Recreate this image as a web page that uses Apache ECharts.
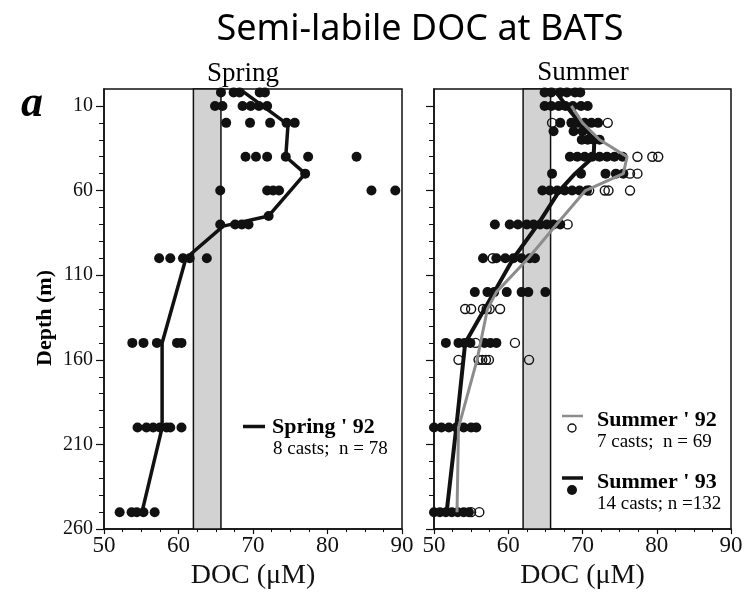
<!DOCTYPE html>
<html>
<head>
<meta charset="utf-8">
<script src="https://cdn.jsdelivr.net/npm/echarts@6/dist/echarts.min.js"></script>
<style>html,body{margin:0;padding:0;background:#fff;}#c{width:753px;height:595px;}</style>
</head>
<body>
<div id="c"></div>
<script>
// ---------- data ----------
const xTicks = [50, 60, 70, 80, 90];
const depthLabelTicks = [10, 60, 110, 160, 210, 260];
const depthMinorTicks = [20, 30, 40, 50, 70, 80, 90, 100, 120, 130, 140, 150, 170, 180, 190, 200, 220, 230, 240, 250];
const bandRange = [62, 65.7];

// Spring '92 (filled dots)
const springDotDepths = [2, 10, 20, 40, 50, 60, 75, 80, 100, 150, 200, 250];
const springDotValues = [
  [65.7, 67.4, 68.2, 70.9, 71.6],
  [64.9, 65.9, 68.6, 69.7, 70.8, 71.9],
  [66.4, 69.6, 72.3, 74.5, 75.6],
  [69.0, 70.4, 71.9, 74.4, 77.4, 83.9],
  [77.0],
  [65.6, 71.9, 72.7, 73.5, 85.9, 89.1],
  [72.1],
  [65.6, 67.6, 68.5, 69.4],
  [57.4, 58.9, 60.6, 61.5, 63.8],
  [53.8, 55.3, 57.1, 59.8, 60.4],
  [54.5, 55.7, 56.6, 57.5, 58.4, 58.9, 60.4],
  [52.1, 53.7, 54.4, 55.3, 56.8]
];
const springMeanDepths = [1, 21, 40, 50, 75, 81, 100, 150, 200, 250];
const springMeanValues = [68.5, 74.7, 74.4, 77.0, 72.1, 66.0, 61.0, 57.8, 57.8, 55.1];

// Summer '93 (filled dots)
const s93DotDepths = [2, 10, 20, 25, 30, 40, 50, 60, 80, 100, 120, 150, 200, 250];
const s93DotValues = [
  [64.9, 65.8, 67.0, 67.9, 69.0, 69.7],
  [64.9, 65.8, 66.8, 67.7, 68.7, 69.8, 70.7],
  [67.0, 68.5, 69.4, 70.3, 71.2, 72.1],
  [66.1, 68.8, 70.0],
  [69.9, 70.7, 71.5, 72.3],
  [68.3, 69.3, 70.3, 71.3, 72.3, 73.3, 74.3, 75.4],
  [65.9, 69.8, 73.1, 74.5, 75.5],
  [64.6, 65.6, 66.6, 67.6, 68.6, 69.6, 70.6],
  [58.2, 60.2, 61.3, 62.5, 63.4, 64.3, 65.2, 66.1, 67.0],
  [56.6, 58.4, 59.6, 60.7, 61.8, 62.9, 63.6],
  [55.5, 57.2, 58.1, 59.8, 61.8, 62.7, 65.0],
  [51.6, 53.3, 54.1, 54.9, 56.8, 57.6, 58.4],
  [50.0, 51.0, 52.0, 53.0, 54.0, 55.0, 55.7],
  [50.0, 50.8, 51.6, 52.4, 53.2, 54.0, 54.7]
];
const s93MeanDepths = [2, 10, 20, 30, 40, 50, 60, 80, 100, 120, 150, 200, 250];
const s93MeanValues = [66.5, 67.8, 69.6, 71.6, 71.5, 69.0, 66.9, 64.0, 60.7, 58.1, 54.2, 53.0, 51.7];

// Summer '92 (open circles)
const s92DotDepths = [20, 40, 50, 60, 80, 100, 130, 150, 160, 250];
const s92DotValues = [
  [65.9, 73.4],
  [77.4, 79.4, 80.2],
  [76.4, 77.4],
  [70.9, 73.0, 73.5, 76.4],
  [68.0],
  [57.9],
  [54.2, 55.0, 56.6, 57.1, 57.5, 58.9],
  [55.6, 60.9],
  [53.3, 56.0, 56.5, 57.0, 57.4, 62.8],
  [55.0, 56.1]
];
const s92MeanDepths = [10, 20, 30, 40, 50, 60, 80, 100, 120, 130, 160, 200, 250];
const s92MeanValues = [68.5, 70.0, 72.3, 76.0, 75.5, 70.4, 66.5, 62.7, 58.4, 57.2, 55.8, 53.3, 53.1];

// ---------- helpers ----------
function dots(depths, vals) {
  const out = [];
  depths.forEach((d, i) => vals[i].forEach(v => out.push([v, d])));
  return out;
}
function pairs(depths, vals) { return depths.map((d, i) => [vals[i], d]); }

const SERIF = 'Liberation Serif';
const BLACK = '#111';

function xAxisFor(i) {
  return {
    gridIndex: i, type: 'value', min: xTicks[0], max: xTicks[xTicks.length - 1], interval: 10,
    position: 'bottom',
    axisLine: { show: true, onZero: false, lineStyle: { color: BLACK, width: 1.5 } },
    axisTick: { show: true, length: 5, lineStyle: { color: BLACK, width: 1.2 } },
    minorTick: { show: true, splitNumber: 4, length: 3, lineStyle: { color: BLACK, width: 1 } },
    splitLine: { show: false }, minorSplitLine: { show: false },
    axisLabel: { color: BLACK, fontFamily: SERIF, fontSize: 23, margin: 5 },
    name: 'DOC (μM)', nameLocation: 'middle', nameGap: 32,
    nameTextStyle: { fontFamily: SERIF, fontSize: 28, color: BLACK }
  };
}
function yMajor(i) {
  return {
    gridIndex: i, type: 'value', inverse: true, min: 0, max: 260, position: 'left', offset: 0,
    axisLine: { show: true, onZero: false, lineStyle: { color: BLACK, width: 1.5 } },
    axisTick: { show: true, customValues: depthLabelTicks, length: 8, lineStyle: { color: BLACK, width: 1.2 } },
    axisLabel: { show: i === 0, customValues: depthLabelTicks, color: BLACK, fontFamily: SERIF, fontSize: 20, margin: 11 },
    splitLine: { show: false }
  };
}
function yMinor(i) {
  return {
    gridIndex: i, type: 'value', inverse: true, min: 0, max: 260, position: 'left', offset: 0,
    axisLine: { show: false, onZero: false },
    axisTick: { show: true, customValues: depthMinorTicks, length: 5, lineStyle: { color: BLACK, width: 1 } },
    axisLabel: { show: false },
    splitLine: { show: false }
  };
}

const band = {
  silent: true,
  itemStyle: { color: '#d2d2d2', borderColor: BLACK, borderWidth: 1.5 },
  data: [[{ xAxis: bandRange[0] }, { xAxis: bandRange[1] }]]
};

const chart = echarts.init(document.getElementById('c'), null, { renderer: 'canvas' });
chart.setOption({
  backgroundColor: '#fff',
  animation: false,
  grid: [
    { left: 104, top: 89, width: 298, height: 447, show: true, borderColor: BLACK, borderWidth: 1.5, backgroundColor: 'transparent' },
    { left: 434, top: 89, width: 297, height: 447, show: true, borderColor: BLACK, borderWidth: 1.5, backgroundColor: 'transparent' }
  ],
  xAxis: [xAxisFor(0), xAxisFor(1)],
  yAxis: [yMajor(0), yMinor(0), yMajor(1), yMinor(1)],
  series: [
    {
      name: 'Spring dots', type: 'scatter', xAxisIndex: 0, yAxisIndex: 0,
      data: dots(springDotDepths, springDotValues), symbolSize: 10,
      itemStyle: { color: BLACK, opacity: 1 }, markArea: band, z: 3
    },
    {
      name: "Spring ' 92", type: 'line', xAxisIndex: 0, yAxisIndex: 0,
      data: pairs(springMeanDepths, springMeanValues), showSymbol: false, symbol: 'none',
      lineStyle: { color: BLACK, width: 3.5 }, z: 4
    },
    {
      name: "Summer ' 93 dots", type: 'scatter', xAxisIndex: 1, yAxisIndex: 2,
      data: dots(s93DotDepths, s93DotValues), symbolSize: 10,
      itemStyle: { color: BLACK, opacity: 1 }, markArea: band, z: 3
    },
    {
      name: "Summer ' 92 dots", type: 'scatter', xAxisIndex: 1, yAxisIndex: 2,
      data: dots(s92DotDepths, s92DotValues), symbolSize: 9,
      itemStyle: { color: 'rgba(255,255,255,0)', borderColor: BLACK, borderWidth: 1.4, opacity: 1 }, z: 3
    },
    {
      name: "Summer ' 93", type: 'line', xAxisIndex: 1, yAxisIndex: 2,
      data: pairs(s93MeanDepths, s93MeanValues), showSymbol: false, symbol: 'none',
      lineStyle: { color: BLACK, width: 4 }, z: 4
    },
    {
      name: "Summer ' 92", type: 'line', xAxisIndex: 1, yAxisIndex: 2,
      data: pairs(s92MeanDepths, s92MeanValues), showSymbol: false, symbol: 'none',
      lineStyle: { color: '#8c8c8c', width: 3 }, z: 5
    }
  ],
  graphic: [
    { type: 'text', x: 420, y: 30, style: { text: 'Semi-labile DOC at BATS', font: '36px "Noto Sans"', fill: '#000', align: 'center', verticalAlign: 'middle' } },
    { type: 'text', x: 243, y: 74, style: { text: 'Spring', font: '27px "Liberation Serif"', fill: '#000', align: 'center', verticalAlign: 'middle' } },
    { type: 'text', x: 583, y: 73, style: { text: 'Summer', font: '27px "Liberation Serif"', fill: '#000', align: 'center', verticalAlign: 'middle' } },
    { type: 'text', x: 32, y: 105, style: { text: 'a', font: 'italic bold 44px "Liberation Serif"', fill: '#000', align: 'center', verticalAlign: 'middle' } },
    { type: 'text', x: 45, y: 318, rotation: Math.PI / 2, style: { text: 'Depth (m)', font: 'bold 22px "Liberation Serif"', fill: '#000', align: 'center', verticalAlign: 'middle' } },
    // Spring legend
    { type: 'line', shape: { x1: 243, y1: 426.5, x2: 265, y2: 426.5 }, style: { stroke: BLACK, lineWidth: 3.5 } },
    { type: 'text', x: 272, y: 427, style: { text: "Spring ' 92", font: 'bold 22px "Liberation Serif"', fill: '#000', align: 'left', verticalAlign: 'middle' } },
    { type: 'text', x: 273, y: 449, style: { text: '8 casts;  n = 78', font: '19px "Liberation Serif"', fill: '#000', align: 'left', verticalAlign: 'middle' } },
    // Summer '92 legend
    { type: 'line', shape: { x1: 562, y1: 416, x2: 583, y2: 416 }, style: { stroke: '#8c8c8c', lineWidth: 2.5 } },
    { type: 'circle', shape: { cx: 572, cy: 428, r: 4 }, style: { fill: 'none', stroke: BLACK, lineWidth: 1.4 } },
    { type: 'text', x: 597, y: 420, style: { text: "Summer ' 92", font: 'bold 22px "Liberation Serif"', fill: '#000', align: 'left', verticalAlign: 'middle' } },
    { type: 'text', x: 597, y: 442, style: { text: '7 casts;  n = 69', font: '19px "Liberation Serif"', fill: '#000', align: 'left', verticalAlign: 'middle' } },
    // Summer '93 legend
    { type: 'line', shape: { x1: 562, y1: 478, x2: 583, y2: 478 }, style: { stroke: BLACK, lineWidth: 3.5 } },
    { type: 'circle', shape: { cx: 572, cy: 490, r: 5 }, style: { fill: BLACK } },
    { type: 'text', x: 597, y: 482, style: { text: "Summer ' 93", font: 'bold 22px "Liberation Serif"', fill: '#000', align: 'left', verticalAlign: 'middle' } },
    { type: 'text', x: 597, y: 504, style: { text: '14 casts; n =132', font: '19px "Liberation Serif"', fill: '#000', align: 'left', verticalAlign: 'middle' } }
  ]
});
</script>
</body>
</html>
